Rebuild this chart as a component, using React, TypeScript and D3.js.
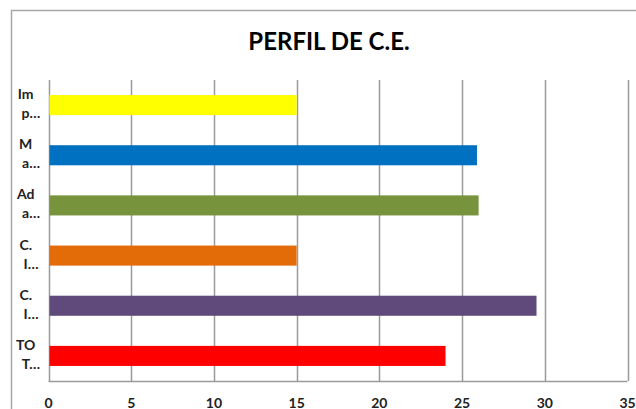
import React from "react";
import * as d3 from "d3";

const categories = ["Imp…", "Ma…", "Ada…", "C. I…", "C. I…", "TOT…"];
const labelLine1 = ["Im", "M", "Ad", "C.", "C.", "TO"];
const labelLine2 = ["p…", "a…", "a…", "I…", "I…", "T…"];
const values = [15, 25.9, 26, 15, 29.5, 24];
const colors = ["#FFFF00", "#0070C0", "#77933C", "#E36C09", "#604A7B", "#FF0000"];
const xTicks = [0, 5, 10, 15, 20, 25, 30, 35];
const title = "PERFIL DE C.E.";

export default function App() {
  const W = 636, H = 409;
  const left = 48.5, right = 627.5, top = 80, bottom = 381;
  const x = d3.scaleLinear().domain([0, 35]).range([left, right]);
  const y = d3.scaleBand<number>().domain(d3.range(categories.length)).range([top, bottom]).paddingInner(0.6).paddingOuter(0.3);
  const font = "Lato, 'Liberation Sans', sans-serif";
  const grid = "#9a9a9a";
  return (
    <svg width={W} height={H} style={{ position: "absolute", left: 0, top: 0, background: "#fff" }}>
      <rect x={11.5} y={10.5} width={800} height={600} fill="#fff" stroke="#a6a6a6" strokeWidth={1.5} />
      <text x={329} y={50} textAnchor="middle" fontFamily={font} fontWeight="bold" fontSize={24} fill="#000">{title}</text>
      {xTicks.map((t) => (
        <line key={"g" + t} x1={Math.round(x(t)) + 0.5} x2={Math.round(x(t)) + 0.5} y1={top} y2={bottom} stroke={grid} strokeWidth={1.5} />
      ))}
      <line x1={left} x2={right} y1={bottom + 0.5} y2={bottom + 0.5} stroke={grid} strokeWidth={1.5} />
      {values.map((v, i) => (
        <rect key={"b" + i} x={x(0) + 1} y={y(i)!} width={x(v) - x(0) - 1} height={y.bandwidth()} fill={colors[i]} />
      ))}
      {categories.map((c, i) => {
        const cy = y(i)! + y.bandwidth() / 2;
        return (
          <g key={"l" + i} fontFamily={font} fontWeight="bold" fontSize={14} fill="#222">
            <text x={25.7} y={cy - 6} textAnchor="middle">{labelLine1[i]}</text>
            <text x={31} y={cy + 13} textAnchor="middle">{labelLine2[i]}</text>
          </g>
        );
      })}
      {xTicks.map((t) => (
        <text key={"t" + t} x={x(t)} y={408} textAnchor="middle" fontFamily={font} fontWeight="bold" fontSize={14} fill="#222">{t}</text>
      ))}
    </svg>
  );
}
